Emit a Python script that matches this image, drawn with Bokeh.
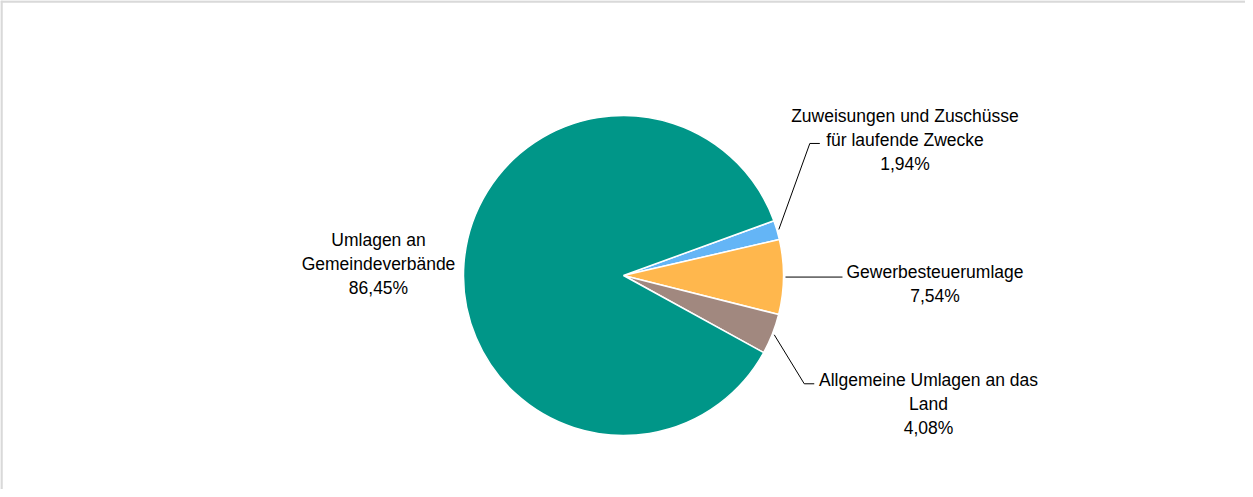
import math
from bokeh.plotting import figure
from bokeh.models import Range1d, Span, ColumnDataSource
from bokeh.core.properties import value
from bokeh.embed import file_html
from bokeh.resources import INLINE

# ---- data (clockwise order on screen) ----
categories = [
    "Zuweisungen und Zuschüsse\nfür laufende Zwecke",
    "Gewerbesteuerumlage",
    "Allgemeine Umlagen an das\nLand",
    "Umlagen an\nGemeindeverbände",
]
shares = [1.94, 7.54, 4.08, 86.45]
pct_labels = ["1,94%", "7,54%", "4,08%", "86,45%"]
colors = ["#64b5f6", "#ffb74d", "#a1887f", "#009688"]

# ---- layout ----
W, H = 1245, 489
CX, CY, R = 623, 214, 160
START_DEG = 20.0

p = figure(width=W, height=H, x_range=Range1d(0, W), y_range=Range1d(0, H),
           output_backend="svg", toolbar_location=None, min_border=0)
p.axis.visible = False
p.grid.visible = False
p.outline_line_color = None
p.background_fill_color = "white"

total = sum(shares)
starts, ends, mids = [], [], []
a = START_DEG
for s in shares:
    span = s / total * 360.0
    starts.append(math.radians(a))
    ends.append(math.radians(a - span))
    mids.append(math.radians(a - span / 2))
    a -= span

src = ColumnDataSource(dict(start=starts, end=ends, color=colors))
p.wedge(x=CX, y=CY, radius=R, start_angle="start", end_angle="end",
        direction="clock", fill_color="color", line_color="white",
        line_width=1.5, source=src)

# label positions (layout) and leader-line geometry
label_pos = [(904.5, 350), (934.5, 206), (928, 86), (378, 225.5)]
leader_bends = [[(31, 86), (41, 86)],   # offsets from anchor
                [(57, 0)],
                [(30, -49), (40, -49)],
                None]

texts = [c + "\n" + pl for c, pl in zip(categories, pct_labels)]
xs = [lp[0] for lp in label_pos]
ys = [lp[1] for lp in label_pos]
p.text(x=xs, y=ys, text=texts, text_align="center", text_baseline="middle",
       text_font=value("Liberation Sans"), text_font_size="17.5px",
       text_color="#000000", text_line_height=1.2)

for m, bends in zip(mids, leader_bends):
    if not bends:
        continue
    ax = CX + (R + 2) * math.cos(m)
    ay = CY + (R + 2) * math.sin(m)
    lx = [ax] + [ax + b[0] for b in bends]
    ly = [ay] + [ay + b[1] for b in bends]
    p.line(lx, ly, line_color="#000000", line_width=1)

# chart border (top and left)
p.add_layout(Span(location=H - 1, dimension="width", line_color="#d9d9d9", line_width=2.5))
p.add_layout(Span(location=1, dimension="height", line_color="#d9d9d9", line_width=2.5))

open("out.html", "w").write(file_html(p, INLINE))
